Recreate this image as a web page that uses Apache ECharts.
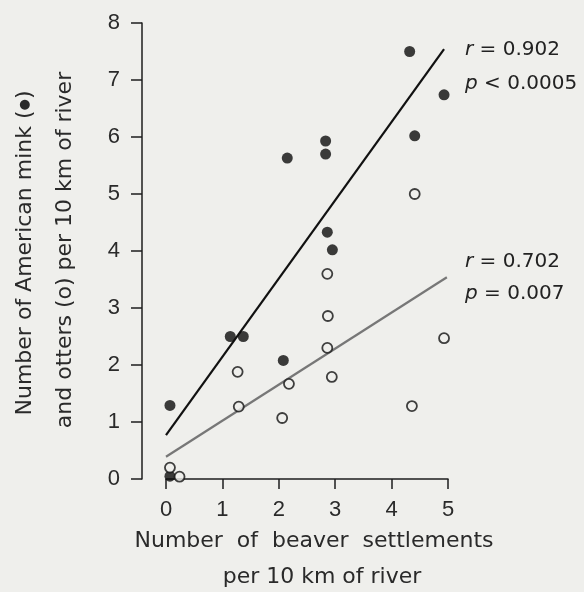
<!DOCTYPE html>
<html>
<head>
<meta charset="utf-8">
<script src="https://cdn.jsdelivr.net/npm/echarts@6.0.0/dist/echarts.min.js"></script>
<style>
  html, body { margin: 0; padding: 0; background: #efefec; }
  #main { width: 584px; height: 592px; }
</style>
</head>
<body>
<div id="main"></div>
<script>
// 数据: 水貂 (实心) 与 水獭 (空心)
var minkX = [4.32, 4.93, 4.41, 2.83, 2.83, 2.15, 2.86, 2.95, 1.14, 1.37, 2.08, 0.07, 0.07];
var minkY = [7.50, 6.74, 6.02, 5.93, 5.70, 5.63, 4.33, 4.02, 2.50, 2.50, 2.08, 1.29, 0.05];
var otterX = [4.41, 2.86, 2.87, 4.93, 2.86, 1.27, 2.18, 2.94, 1.29, 4.36, 2.06, 0.07, 0.24];
var otterY = [5.00, 3.60, 2.86, 2.47, 2.30, 1.88, 1.67, 1.79, 1.27, 1.28, 1.07, 0.20, 0.04];
// 回归线两端
var minkFitX = [0, 4.93];
var minkFitY = [0.77, 7.54];
var otterFitX = [0, 4.98];
var otterFitY = [0.39, 3.54];
var xTicks = [0, 1, 2, 3, 4, 5];
var yTicks = [0, 1, 2, 3, 4, 5, 6, 7, 8];

function pairs(xs, ys) {
    var out = [];
    for (var i = 0; i < xs.length; i++) out.push([xs[i], ys[i]]);
    return out;
}

var bg = '#efefec';
var ink = '#1e1e1e';
var txtFont = 'DejaVu Sans';
var italic = { fontStyle: 'italic', fontSize: 20, fontFamily: txtFont };

var myChart = echarts.init(document.getElementById('main'));
var option = {
    backgroundColor: bg,
    animation: false,
    grid: { left: 166, top: 23, width: 282, height: 456 },
    xAxis: {
        type: 'value',
        min: xTicks[0],
        max: xTicks[xTicks.length - 1],
        interval: 1,
        splitLine: { show: false },
        axisLine: { onZero: false, lineStyle: { color: ink, width: 1.5 } },
        axisTick: { length: 10, lineStyle: { color: ink, width: 1.5 } },
        axisLabel: { color: '#2a2a2a', fontSize: 22, fontFamily: 'Liberation Sans', margin: 20 }
    },
    yAxis: {
        type: 'value',
        min: yTicks[0],
        max: yTicks[yTicks.length - 1],
        interval: 1,
        offset: 24,
        splitLine: { show: false },
        //不贴在 x=0 上
        axisLine: { onZero: false, lineStyle: { color: ink, width: 1.5 } },
        axisTick: { length: 11, lineStyle: { color: ink, width: 1.5 } },
        axisLabel: { color: '#2a2a2a', fontSize: 22, fontFamily: 'Liberation Sans', margin: 22 }
    },
    // 轴标题与注释
    graphic: [
        { type: 'text', x: 25, y: 253, rotation: Math.PI / 2,
          style: { text: 'Number of American mink ({d|●})', font: '22px ' + txtFont, fill: '#2a2a2a', textAlign: 'center', textVerticalAlign: 'middle',
                   rich: { d: { fontSize: 13, fontFamily: txtFont, fill: '#2a2a2a' } } } },
        { type: 'text', x: 65, y: 250, rotation: Math.PI / 2,
          style: { text: 'and otters (o) per 10 km of river', font: '22px ' + txtFont, fill: '#2a2a2a', textAlign: 'center', textVerticalAlign: 'middle' } },
        { type: 'text', x: 314, y: 541,
          style: { text: 'Number  of  beaver  settlements', font: '22px ' + txtFont, fill: '#2a2a2a', textAlign: 'center', textVerticalAlign: 'middle' } },
        { type: 'text', x: 322, y: 577,
          style: { text: 'per 10 km of river', font: '22px ' + txtFont, fill: '#2a2a2a', textAlign: 'center', textVerticalAlign: 'middle' } },
        { type: 'text', x: 465, y: 50,
          style: { text: '{i|r} = 0.902', font: '20px ' + txtFont, fill: '#222', textVerticalAlign: 'middle', rich: { i: italic } } },
        { type: 'text', x: 465, y: 84,
          style: { text: '{i|p} < 0.0005', font: '20px ' + txtFont, fill: '#222', textVerticalAlign: 'middle', rich: { i: italic } } },
        { type: 'text', x: 465, y: 262,
          style: { text: '{i|r} = 0.702', font: '20px ' + txtFont, fill: '#222', textVerticalAlign: 'middle', rich: { i: italic } } },
        { type: 'text', x: 465, y: 294,
          style: { text: '{i|p} = 0.007', font: '20px ' + txtFont, fill: '#222', textVerticalAlign: 'middle', rich: { i: italic } } }
    ],
    series: [
        {
            type: 'line',
            data: pairs(minkFitX, minkFitY),
            symbol: 'none',
            lineStyle: { color: '#111', width: 2.2 },
            z: 2
        },
        {
            type: 'line',
            data: pairs(otterFitX, otterFitY),
            symbol: 'none',
            lineStyle: { color: '#777', width: 2.2 },
            z: 2
        },
        {
            type: 'scatter',
            data: pairs(minkX, minkY),
            symbol: 'circle',
            symbolSize: 11,
            itemStyle: { color: '#0d0d0d' },
            z: 3
        },
        {
            type: 'scatter',
            data: pairs(otterX, otterY),
            symbol: 'circle',
            symbolSize: 10,
            itemStyle: { color: bg, borderColor: '#111', borderWidth: 1.8 },
            z: 4
        }
    ]
};
myChart.setOption(option);
</script>
</body>
</html>
